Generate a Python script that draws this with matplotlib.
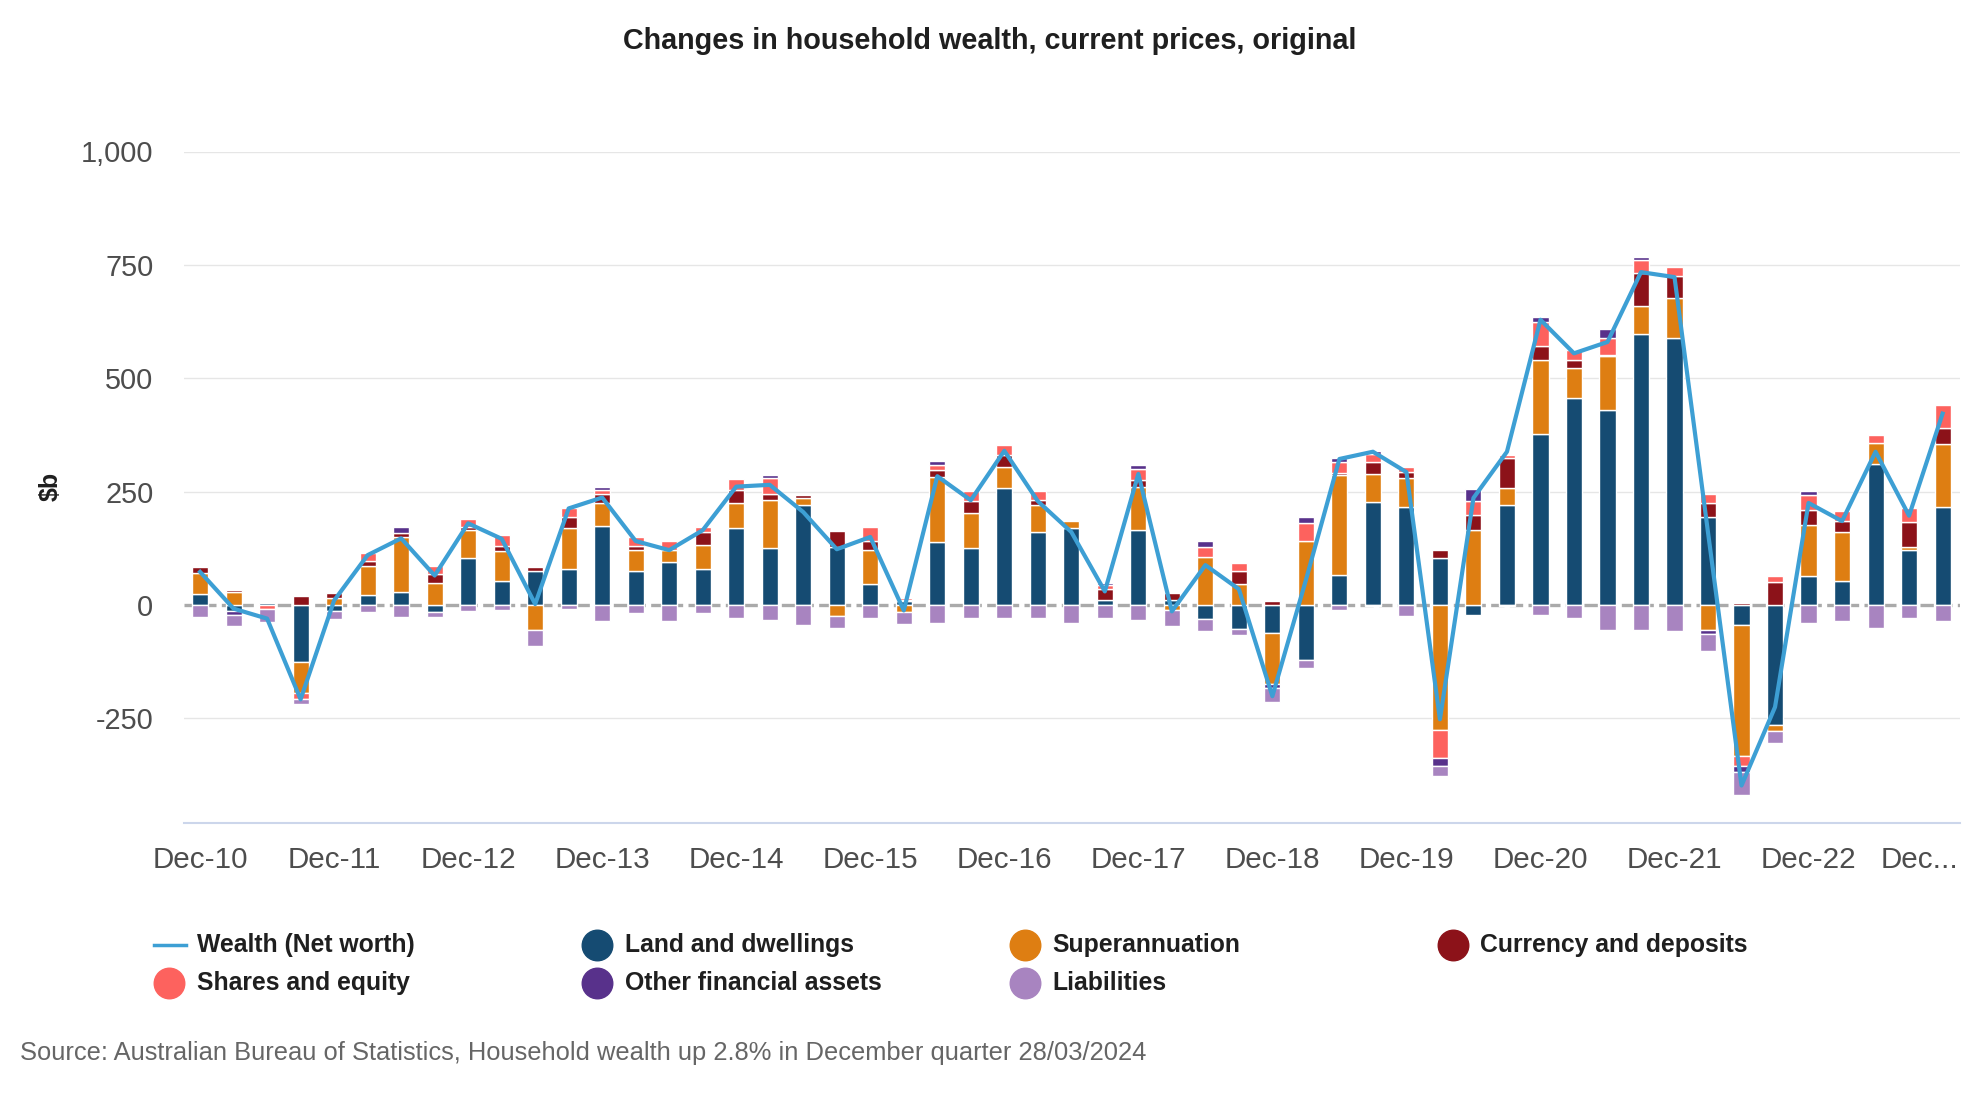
import numpy as np
import matplotlib
matplotlib.use("Agg")
import matplotlib.pyplot as plt
import matplotlib.transforms as mtransforms
from matplotlib.lines import Line2D

plt.rcParams['font.family'] = ['Liberation Sans', 'DejaVu Sans']

# quarters, Dec-10 .. Dec-23
quarters = ["Dec-10", "Mar-11", "Jun-11", "Sep-11", "Dec-11", "Mar-12", "Jun-12", "Sep-12",
            "Dec-12", "Mar-13", "Jun-13", "Sep-13", "Dec-13", "Mar-14", "Jun-14", "Sep-14",
            "Dec-14", "Mar-15", "Jun-15", "Sep-15", "Dec-15", "Mar-16", "Jun-16", "Sep-16",
            "Dec-16", "Mar-17", "Jun-17", "Sep-17", "Dec-17", "Mar-18", "Jun-18", "Sep-18",
            "Dec-18", "Mar-19", "Jun-19", "Sep-19", "Dec-19", "Mar-20", "Jun-20", "Sep-20",
            "Dec-20", "Mar-21", "Jun-21", "Sep-21", "Dec-21", "Mar-22", "Jun-22", "Sep-22",
            "Dec-22", "Mar-23", "Jun-23", "Sep-23", "Dec-23"]
tick_labels = ["Dec-10", "Dec-11", "Dec-12", "Dec-13", "Dec-14", "Dec-15", "Dec-16",
               "Dec-17", "Dec-18", "Dec-19", "Dec-20", "Dec-21", "Dec-22", "Dec..."]

land = [24, -13, 4, -125, -13, 23, 28, -15, 103, 54, 76, 80, 174, 76, 94, 80, 169, 125, 221, 129,
        46, 8, 138, 125, 257, 160, 169, 12, 165, 12, -30, -52, -61, -122, 67, 227, 217, 103, -22, 221,
        377, 457, 430, 598, 589, 195, -43, -264, 63, 54, 310, 121, 217]
superann = [47, 28, 0, -68, 15, 64, 122, 48, 62, 66, -55, 89, 52, 45, 27, 53, 57, 106, 15, -24,
            75, -16, 145, 78, 48, 60, 16, 0, 96, -10, 106, 46, -113, 142, 220, 62, 62, -276, 165, 36,
            163, 66, 119, 61, 88, -56, -291, -13, 114, 106, 48, 8, 137]
currency = [12, 6, 0, 20, 11, 9, 8, 20, 7, 10, 8, 26, 18, 9, 0, 27, 27, 13, 7, 34,
            21, 4, 14, 27, 26, 11, 0, 24, 14, 14, 0, 30, 8, 0, 3, 26, 14, 19, 34, 67,
            31, 17, 3, 74, 49, 30, 4, 51, 32, 26, 0, 53, 36]
shares = [0, 0, -9, -14, 0, 19, 0, 17, 18, 24, 0, 20, 9, 19, 20, 13, 24, 35, 0, 0,
          29, 3, 12, 21, 21, 20, 0, 8, 25, 0, 23, 16, 0, 39, 25, 19, 11, -62, 30, 6,
          52, 23, 36, 27, 20, 20, -22, 13, 34, 21, 16, 33, 50]
other_fin = [0, -8, 0, 0, 0, 0, 15, 0, 0, 0, 0, 0, 7, 0, 0, 0, 0, 7, 0, 0,
             0, 0, 9, 0, 0, 0, 0, 5, 8, 0, 12, 0, -10, 12, 10, 5, 0, -18, 26, 0,
             12, 0, 20, 8, 0, -8, -13, 0, 9, 0, 0, 0, 0]
liabilities = [-26, -26, -28, -12, -18, -16, -26, -11, -13, -12, -35, -8, -36, -18, -36, -18, -28, -32, -45, -26,
               -28, -25, -40, -28, -28, -28, -40, -28, -32, -36, -28, -15, -30, -16, -10, -3, -24, -20, 0, -2,
               -22, -28, -54, -54, -58, -38, -51, -28, -40, -36, -50, -28, -36]
net_worth = [73, -8, -30, -208, 10, 110, 147, 65, 180, 146, 2, 213, 237, 141, 121, 165, 261, 265, 205, 123,
             150, -12, 284, 231, 340, 229, 161, 30, 289, -14, 88, 35, -201, 55, 322, 338, 293, -252, 236, 338,
             629, 555, 580, 734, 723, 160, -398, -225, 225, 185, 338, 197, 422]

series = [
    ("Land and dwellings", land, "#154b72"),
    ("Superannuation", superann, "#de7e12"),
    ("Currency and deposits", currency, "#8c1219"),
    ("Shares and equity", shares, "#fd625e"),
    ("Other financial assets", other_fin, "#58318b"),
    ("Liabilities", liabilities, "#a884c0"),
]
line_name = "Wealth (Net worth)"
line_color = "#3d9fd4"

W, H = 1980, 1100
fig = plt.figure(figsize=(W / 100, H / 100), dpi=100)
ax = fig.add_axes([184 / W, 1 - 822.7 / H, (1960 - 184) / W, (822.7 - 151.5) / H])

x = np.arange(len(quarters))
pos_base = np.zeros(len(x))
neg_base = np.zeros(len(x))
for name, vals, color in series:
    v = np.array(vals, dtype=float)
    bottom = np.where(v >= 0, pos_base, neg_base)
    mask = v != 0
    ax.bar(x[mask], v[mask], bottom=bottom[mask], width=0.48, color=color,
           edgecolor="white", linewidth=1.0, zorder=3)
    pos_base = pos_base + np.where(v > 0, v, 0)
    neg_base = neg_base + np.where(v < 0, v, 0)

ax.plot(x, net_worth, color=line_color, linewidth=3.0, zorder=5, solid_joinstyle="round")

# grid + zero line
yticks = [-250, 0, 250, 500, 750, 1000]
for yt in yticks:
    if yt != 0:
        ax.axhline(yt, color="#e6e6e6", linewidth=1.0, zorder=0)
ax.axhline(0, color="#aaaaaa", linewidth=2.4, dashes=(4, 1.6), zorder=1)

ax.set_xlim(-0.48, 52.52)
ax.set_ylim(-480, 1000)
ax.set_yticks(yticks)
ax.set_yticklabels([f"{v:,}" for v in yticks])
ax.set_xticks(x[::4])
ax.set_xticklabels(tick_labels)
ax.tick_params(axis="y", length=0, pad=22, labelsize=20.8, labelcolor="#4d4d4d")
ax.tick_params(axis="x", length=0, pad=16.5, labelsize=21.3, labelcolor="#4d4d4d")
last = ax.get_xticklabels()[-1]
last.set_transform(last.get_transform() + mtransforms.ScaledTranslation(-23 / 100, 0, fig.dpi_scale_trans))

for side in ["top", "right", "left"]:
    ax.spines[side].set_visible(False)
ax.spines["bottom"].set_color("#ccd6eb")
ax.spines["bottom"].set_linewidth(1.5)

fig.text(0.5, 1 - 41 / H, "Changes in household wealth, current prices, original",
         ha="center", va="center", fontsize=20.7, fontweight="bold", color="#1f1f1f")
fig.text(50.5 / W, 1 - 486 / H, r"\$b", rotation=90, ha="center", va="center",
         fontsize=18, fontweight="bold", color="#1f1f1f")

# legend, drawn by hand on a 4-column grid
entries = [(line_name, line_color, "line")] + [(n, c, "dot") for n, _, c in series]
marker_x = [169, 597, 1025, 1453]
text_x = [197, 625, 1052, 1480]
rows_y = [945, 983]
for i, (name, color, kind) in enumerate(entries):
    col, row = i % 4, i // 4
    yy = 1 - rows_y[row] / H
    if kind == "line":
        fig.add_artist(Line2D([154 / W, 186 / W], [yy, yy], transform=fig.transFigure,
                              color=color, linewidth=2.5))
    else:
        fig.add_artist(Line2D([marker_x[col] / W], [yy], transform=fig.transFigure,
                              marker="o", markersize=22, color=color, linestyle="none"))
    fig.text(text_x[col] / W, yy, name, ha="left", va="center", fontsize=17.8,
             fontweight="bold", color="#1f1f1f")

fig.text(20 / W, 1 - 1053 / H,
         "Source: Australian Bureau of Statistics, Household wealth up 2.8% in December quarter 28/03/2024",
         ha="left", va="center", fontsize=18.4, color="#666666")

fig.savefig("out.png", dpi=100)
